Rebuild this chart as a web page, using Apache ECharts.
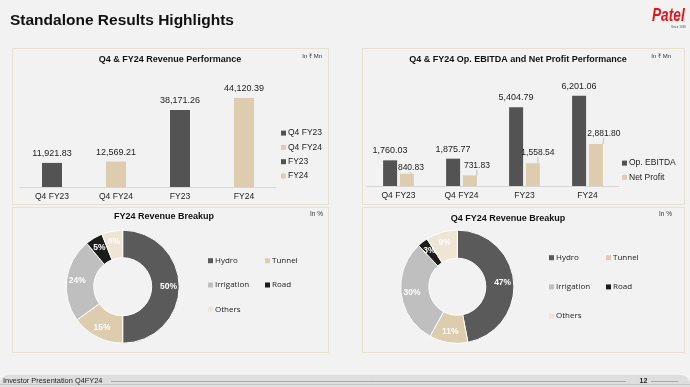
<!DOCTYPE html>
<html>
<head>
<meta charset="utf-8">
<script src="https://cdn.jsdelivr.net/npm/echarts@6/dist/echarts.min.js"></script>
<style>
html,body{margin:0;padding:0;background:#f2f2f2;}
#c{width:690px;height:387px;}
</style>
</head>
<body>
<div id="c"></div>
<script>
// ---- data ----
const periodCategories = ['Q4 FY23', 'Q4 FY24', 'FY23', 'FY24'];
const revenueValues = [11921.83, 12569.21, 38171.26, 44120.39];
const ebitdaValues = [1760.03, 1875.77, 5404.79, 6201.06];
const netProfitValues = [840.83, 731.83, 1558.54, 2881.80];
const segmentNames = ['Hydro', 'Tunnel', 'Irrigation', 'Road', 'Others'];
const fy24Shares = [50, 15, 24, 5, 6];
const q4fy24Shares = [47, 11, 30, 3, 9];

// ---- styling ----
const DARK = '#535353';
const BEIGE = '#ddcdae';
const segColors = ['#5a5a5a', '#ddcdae', '#bfbfbf', '#1c1c1c', '#eee5d4'];
const FONT = 'Liberation Sans, Arial, sans-serif';
const fmt = v => {
  const p = v.toFixed(2).split('.');
  return p[0].replace(/\B(?=(\d{3})+(?!\d))/g, ',') + '.' + p[1];
};

const chart = echarts.init(document.getElementById('c'), null, {renderer: 'canvas'});

const revColors = [DARK, BEIGE, DARK, BEIGE];
const revSeries = periodCategories.map((name, i) => ({
  type: 'bar', name: name, xAxisIndex: 0, yAxisIndex: 0, stack: 'rev',
  barWidth: 20, color: revColors[i],
  data: revenueValues.map((v, j) => j === i ? v : '-'),
  label: {show: true, position: 'top', distance: 5, fontFamily: FONT, fontSize: 9, color: '#222',
    formatter: p => fmt(p.value)},
  emphasis: {disabled: true}
}));

const npOffsets = [[4, 3.5], [7, -0.5], [5, -1], [8, -1]];

const axisLabelStyle = {fontFamily: FONT, fontSize: 8.5, color: '#222', margin: 5};
const barLegendText = {fontFamily: FONT, fontSize: 8.5, color: '#222', padding: [0, 0, 0, -3]};
const pieLegendText = {fontFamily: 'Open Sans, sans-serif', fontSize: 8, color: '#222', padding: [0, 0, 0, -3]};
const legendBase = {orient: 'vertical', padding: 0, itemWidth: 5, itemHeight: 5, icon: 'rect',
  selectedMode: false, itemStyle: {borderWidth: 0}};

const option = {
  animation: false,
  backgroundColor: '#f2f2f2',
  grid: [
    {left: 20, top: 86, width: 256, height: 101},
    {left: 367, top: 84, width: 252, height: 102}
  ],
  xAxis: [
    {type: 'category', gridIndex: 0, data: periodCategories, axisTick: {show: false},
     axisLine: {lineStyle: {color: '#d6d6d6'}}, axisLabel: axisLabelStyle},
    {type: 'category', gridIndex: 1, data: periodCategories, axisTick: {show: false},
     axisLine: {lineStyle: {color: '#d6d6d6'}}, axisLabel: axisLabelStyle}
  ],
  yAxis: [
    {type: 'value', gridIndex: 0, min: 0, max: 50000, show: false, splitLine: {show: false}},
    {type: 'value', gridIndex: 1, min: 0, max: 7000, show: false, splitLine: {show: false}}
  ],
  legend: [
    Object.assign({}, legendBase, {data: periodCategories, left: 281, top: 128.6, itemGap: 5.3, textStyle: barLegendText}),
    Object.assign({}, legendBase, {data: ['Op. EBITDA', 'Net Profit'], left: 622, top: 158.6, itemGap: 5.3, textStyle: barLegendText}),
    Object.assign({}, legendBase, {data: ['Hydro', 'Irrigation', 'Others'], left: 208, top: 256.7, itemGap: 16.3, textStyle: pieLegendText}),
    Object.assign({}, legendBase, {data: ['Tunnel', 'Road'], left: 265, top: 256.7, itemGap: 16.3, textStyle: pieLegendText}),
    Object.assign({}, legendBase, {data: ['Hydro', 'Irrigation', 'Others'], left: 549, top: 253.7, itemGap: 21.2, textStyle: pieLegendText}),
    Object.assign({}, legendBase, {data: ['Tunnel', 'Road'], left: 606, top: 253.7, itemGap: 21.2, textStyle: pieLegendText})
  ],
  series: revSeries.concat([
    {type: 'bar', name: 'Op. EBITDA', xAxisIndex: 1, yAxisIndex: 1, barWidth: 14, barGap: '20%',
     color: DARK, data: ebitdaValues, emphasis: {disabled: true},
     label: {show: true, position: 'top', distance: 5, fontFamily: FONT, fontSize: 9, color: '#222',
       formatter: p => fmt(p.value)}},
    {type: 'bar', name: 'Net Profit', xAxisIndex: 1, yAxisIndex: 1, barWidth: 14, barGap: '20%',
     color: BEIGE, data: netProfitValues, emphasis: {disabled: true},
     label: {show: true, position: 'top', distance: 5, fontFamily: FONT, fontSize: 8.5, color: '#222',
       formatter: p => fmt(p.value)},
     labelLine: {show: true, lineStyle: {color: '#aaa', width: 0.7}},
     labelLayout: p => ({dx: npOffsets[p.dataIndex][0], dy: npOffsets[p.dataIndex][1]})},
    {type: 'pie', name: 'FY24 Revenue Breakup', center: [122.7, 286.7], radius: [29, 56.5],
     startAngle: 90, clockwise: true, emphasis: {disabled: true},
     itemStyle: {borderColor: '#ffffff', borderWidth: 1},
     label: {show: true, position: 'inside', color: '#fff', fontFamily: FONT, fontWeight: 'bold', fontSize: 8.5,
       formatter: p => p.value + '%'},
     labelLine: {show: false},
     data: segmentNames.map((n, i) => ({name: n, value: fy24Shares[i], itemStyle: {color: segColors[i]}}))},
    {type: 'pie', name: 'Q4 FY24 Revenue Breakup', center: [457.3, 286.7], radius: [28.5, 56.6],
     startAngle: 90, clockwise: true, emphasis: {disabled: true},
     itemStyle: {borderColor: '#ffffff', borderWidth: 1},
     label: {show: true, position: 'inside', color: '#fff', fontFamily: FONT, fontWeight: 'bold', fontSize: 8.5,
       formatter: p => p.value + '%'},
     labelLine: {show: false},
     data: segmentNames.map((n, i) => ({name: n, value: q4fy24Shares[i], itemStyle: {color: segColors[i]}}))}
  ]),
  graphic: [
    // header
    {type: 'text', left: 10, top: 13, z: 1,
     style: {text: 'Standalone Results Highlights', font: 'bold 15.5px ' + FONT, fill: '#111'}},
    {type: 'text', x: 652, y: 6, scaleX: 0.72, z: 1,
     style: {text: 'Patel', font: 'italic bold 19px ' + FONT, fill: '#e3141c'}},
    {type: 'text', x: 671, y: 25.5, z: 1,
     style: {text: 'Since 1949', font: '3px ' + FONT, fill: '#555'}},
    // panels
    {type: 'rect', z: 0, shape: {x: 12.5, y: 48.5, width: 316, height: 156},
     style: {fill: '#f2f2f2', stroke: '#e6e1cf', lineWidth: 1}},
    {type: 'rect', z: 0, shape: {x: 362.5, y: 48.5, width: 322, height: 156},
     style: {fill: '#f2f2f2', stroke: '#e6e1cf', lineWidth: 1}},
    {type: 'rect', z: 0, shape: {x: 12.5, y: 207.5, width: 316, height: 145},
     style: {fill: '#f2f2f2', stroke: '#e6e1cf', lineWidth: 1}},
    {type: 'rect', z: 0, shape: {x: 362.5, y: 207.5, width: 322, height: 145},
     style: {fill: '#f2f2f2', stroke: '#e6e1cf', lineWidth: 1}},
    // panel titles
    {type: 'text', x: 170, y: 60, z: 1,
     style: {text: 'Q4 & FY24 Revenue Performance', font: 'bold 9px ' + FONT, fill: '#111', textAlign: 'center', textVerticalAlign: 'middle'}},
    {type: 'text', x: 518, y: 60, z: 1,
     style: {text: 'Q4 & FY24 Op. EBITDA and Net Profit Performance', font: 'bold 9px ' + FONT, fill: '#111', textAlign: 'center', textVerticalAlign: 'middle'}},
    {type: 'text', x: 164, y: 217, z: 1,
     style: {text: 'FY24 Revenue Breakup', font: 'bold 9px ' + FONT, fill: '#111', textAlign: 'center', textVerticalAlign: 'middle'}},
    {type: 'text', x: 508, y: 219, z: 1,
     style: {text: 'Q4 FY24 Revenue Breakup', font: 'bold 9px ' + FONT, fill: '#111', textAlign: 'center', textVerticalAlign: 'middle'}},
    {type: 'text', x: 322, y: 56, z: 1,
     style: {text: 'In ₹ Mn', font: '6px ' + FONT, fill: '#333', textAlign: 'right', textVerticalAlign: 'middle'}},
    {type: 'text', x: 671, y: 56, z: 1,
     style: {text: 'In ₹ Mn', font: '6px ' + FONT, fill: '#333', textAlign: 'right', textVerticalAlign: 'middle'}},
    {type: 'text', x: 323, y: 214, z: 1,
     style: {text: 'In %', font: '6.5px ' + FONT, fill: '#333', textAlign: 'right', textVerticalAlign: 'middle'}},
    {type: 'text', x: 672, y: 214, z: 1,
     style: {text: 'In %', font: '6.5px ' + FONT, fill: '#333', textAlign: 'right', textVerticalAlign: 'middle'}},
    // footer
    {type: 'rect', z: 0, shape: {x: 0, y: 375, width: 690, height: 14, r: [9, 9, 0, 0]},
     style: {fill: '#dedede'}},
    {type: 'line', z: 1, shape: {x1: 0, y1: 384.5, x2: 690, y2: 384.5}, style: {stroke: '#c6c6c6', lineWidth: 1}},
    {type: 'text', x: 3, y: 381, z: 2,
     style: {text: 'Investor Presentation Q4FY24', font: '7.4px ' + FONT, fill: '#222', textVerticalAlign: 'middle'}},
    {type: 'line', z: 2, shape: {x1: 111, y1: 381.5, x2: 626, y2: 381.5}, style: {stroke: '#9a9a9a', lineWidth: 0.8}},
    {type: 'text', x: 643.5, y: 381, z: 2,
     style: {text: '12', font: 'bold 7px ' + FONT, fill: '#222', textAlign: 'center', textVerticalAlign: 'middle'}},
    {type: 'line', z: 2, shape: {x1: 651, y1: 381.5, x2: 678, y2: 381.5}, style: {stroke: '#9a9a9a', lineWidth: 0.8}}
  ]
};
chart.setOption(option);
</script>
</body>
</html>
